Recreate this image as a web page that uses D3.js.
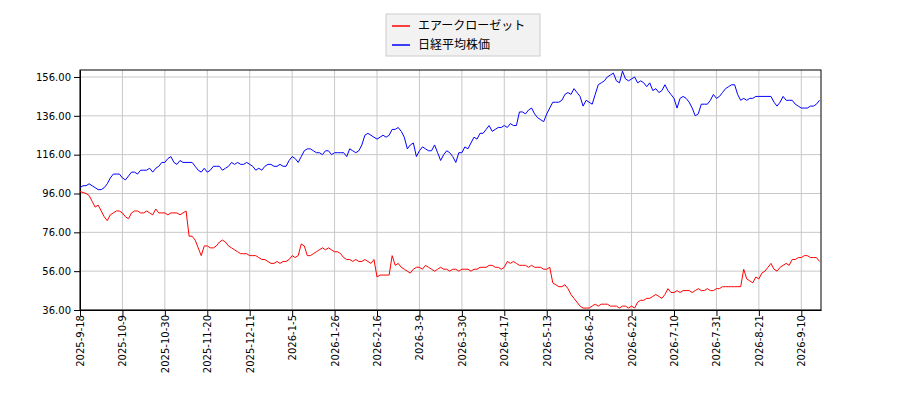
<!DOCTYPE html>
<html>
<head>
<meta charset="utf-8">
<script src="https://d3js.org/d3.v7.min.js"></script>
<style>
body{margin:0;background:#fff;}
text{font-family:"DejaVu Sans",sans-serif;}
</style>
</head>
<body>
<script>
//series names
var seriesNames = ["エアークローゼット", "日経平均株価"];

//tick labels every 14 trading days
var tickLabels = ["2025-9-18","2025-10-9","2025-10-30","2025-11-20","2025-12-11","2026-1-5","2026-1-26","2026-2-16","2026-3-9","2026-3-30","2026-4-17","2026-5-13","2026-6-2","2026-6-22","2026-7-10","2026-7-31","2026-8-21","2026-9-10"];
var yTicks = [36,56,76,96,116,136,156];

//normalised values
var airValues = [97,96.5,96,95,92,89,90,87,84,82,
  85,86,87,87,86,84,83,86,87,87,
  86,86,87,86,85,88,86,86,86,85,
  86,86,86,85,86,87,
  74,74,72,68,64,
  69,69,68,68,69,71,72,71,69,68,
  67,66,65,65,65,64,64,64,63,62,
  62,61,60,60,61,60,61,61,62,64,
  63,64,70,69,64,64,65,66,67,68,
  67,68,67,66,66,65,63,62,62,61,
  62,61,61,62,61,60,62,
  53,54,54,54,54,64,59,
  60,58,57,56,55,57,58,58,57,59,
  58,57,56,57,58,57,57,56,57,57,
  56,57,57,57,56,57,57,58,58,58,
  59,59,58,58,57,58,61,60,61,60,
  59,59,59,58,59,58,58,58,57,57,58,
  50,49,48,48,49,47,44,42,40,38,37,37,37,
  38,39,38,39,39,39,38,38,38,37,38,38,37,38,
  37,40,41,41,42,42,43,44,43,42,44,47,
  45,45,46,45,46,46,46,45,46,47,46,46,47,46,46,47,47,48,48,48,48,48,48,48,
  57,52,51,50,53,52,55,56,58,60,57,56,58,59,60,59,62,62,63,63,64,64,63,63,63,61];

var nikkeiValues = [99,100,100,101,100,99,98,98,99,101,104,
  106,106,106,104,103,105,107,107,106,108,
  108,108,109,107,109,110,112,112,114,115,
  112,111,113,112,112,112,112,110,108,107,
  109,107,108,110,110,110,108,109,110,112,
  111,112,111,111,112,111,110,108,109,108,
  110,111,111,110,110,111,110,110,113,115,
  114,112,115,118,119,119,118,117,117,116,
  118,118,116,117,117,117,117,115,119,118,
  117,118,121,126,127,126,125,124,125,126,
  125,126,129,129,130,128,125,119,121,122,
  115,118,120,119,118,118,121,117,113,116,
  118,117,115,112,117,117,120,119,122,125,
  124,127,127,129,131,128,129,130,130,131,
  130,132,131,131,138,138,137,139,140,137,
  135,134,133,137,140,143,143,143,144,147,
  148,147,150,148,146,141,144,143,142,147,
  152,153,154,156,157,158,154,153,159,155,
  154,155,156,153,154,153,151,153,149,150,
  148,149,152,149,147,145,140,145,146,145,
  143,140,136,137,142,142,142,144,147,145,
  146,148,150,151,152,152,147,144,145,144,
  145,145,146,146,146,146,146,146,143,141,
  143,146,144,144,144,142,141,140,140,140,
  141,141,142,144];

var svg = d3.select("body").append("svg")
    .attr("width", 900)
    .attr("height", 400);

var plotLeft = 80, plotRight = 821, plotTop = 70, plotBottom = 310;

var x = d3.scaleLinear().domain([0, 244.5]).range([plotLeft, plotRight]);
var y = d3.scaleLinear().domain([36, 159.6]).range([plotBottom, plotTop]);

//grid
svg.append("g").selectAll("line").data(tickLabels).enter().append("line")
    .attr("x1", function(d, i){ return x(i * 14); })
    .attr("x2", function(d, i){ return x(i * 14); })
    .attr("y1", plotTop).attr("y2", plotBottom)
    .attr("stroke", "#c8c8c8");
svg.append("g").selectAll("line").data(yTicks).enter().append("line")
    .attr("x1", plotLeft).attr("x2", plotRight)
    .attr("y1", function(d){ return y(d); })
    .attr("y2", function(d){ return y(d); })
    .attr("stroke", "#c8c8c8");

//axes
var xAxis = d3.axisBottom(x)
    .tickValues(tickLabels.map(function(d, i){ return i * 14; }))
    .tickFormat(function(d){ return tickLabels[d / 14]; })
    .tickSizeOuter(0);
svg.append("g").attr("transform", "translate(0," + plotBottom + ")").call(xAxis)
    .selectAll("text")
    .attr("transform", "rotate(-90)")
    .attr("x", -5).attr("y", 0).attr("dy", "0.35em")
    .style("text-anchor", "end")
    .style("font-size", "10px").attr("fill", "#000");

svg.append("g").attr("transform", "translate(" + plotLeft + ",0)")
    .call(d3.axisLeft(y).tickValues(yTicks).tickFormat(d3.format(".2f")).tickSizeOuter(0))
    .selectAll("text").style("font-size", "10px").attr("fill", "#000");

svg.append("rect").attr("x", plotLeft).attr("y", plotTop)
    .attr("width", plotRight - plotLeft).attr("height", plotBottom - plotTop)
    .attr("fill", "none").attr("stroke", "#000");

//lines
var line = d3.line()
    .x(function(d, i){ return x(i); })
    .y(function(d){ return y(d); });
svg.append("path").datum(nikkeiValues).attr("d", line)
    .attr("fill", "none").attr("stroke", "blue").attr("stroke-width", 1);
svg.append("path").datum(airValues).attr("d", line)
    .attr("fill", "none").attr("stroke", "red").attr("stroke-width", 1);

//legend
var legend = svg.append("g");
legend.append("rect").attr("x", 386).attr("y", 14).attr("width", 154).attr("height", 42)
    .attr("fill", "#f2f2f2").attr("stroke", "#ccc");
var colors = ["red", "blue"];
seriesNames.forEach(function(name, i){
    var ly = 26 + i * 19;
    legend.append("line").attr("x1", 392).attr("x2", 410)
        .attr("y1", ly).attr("y2", ly).attr("stroke", colors[i]).attr("stroke-width", 1.5);
    legend.append("text").attr("x", 418).attr("y", ly).attr("dy", "0.35em")
        .style("font-size", "12px").style("font-family", "'Noto Sans CJK JP',sans-serif")
        .text(name);
});
</script>
</body>
</html>
